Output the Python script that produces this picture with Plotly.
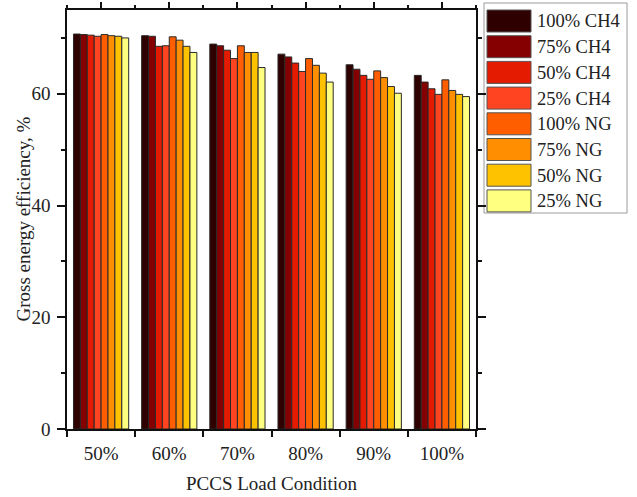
import plotly.graph_objects as go

# ---- data ----
load_conditions = ["50%", "60%", "70%", "80%", "90%", "100%"]
series_names = ["100% CH4", "75% CH4", "50% CH4", "25% CH4",
                "100% NG", "75% NG", "50% NG", "25% NG"]
ch4_100 = [70.7, 70.4, 68.9, 67.1, 65.2, 63.3]
ch4_75 = [70.6, 70.3, 68.6, 66.6, 64.4, 62.1]
ch4_50 = [70.5, 68.5, 67.8, 65.5, 63.3, 60.9]
ch4_25 = [70.3, 68.6, 66.3, 64.0, 62.6, 59.9]
ng_100 = [70.6, 70.2, 68.6, 66.3, 64.1, 62.5]
ng_75 = [70.4, 69.6, 67.4, 65.1, 62.9, 60.6]
ng_50 = [70.3, 68.5, 67.4, 63.7, 61.3, 59.9]
ng_25 = [70.0, 67.4, 64.7, 62.1, 60.1, 59.5]
series_values = [ch4_100, ch4_75, ch4_50, ch4_25, ng_100, ng_75, ng_50, ng_25]
colors = ["#2e0000", "#850000", "#e41b00", "#ff4422",
          "#ff5e00", "#ff8f00", "#ffc200", "#ffff80"]

# ---- layout geometry (pixels) ----
W, H = 637, 497
ML, MR, MT, MB = 67, 161, 10, 68
PW, PH = W - ML - MR, H - MT - MB
FONT = "Liberation Serif"


def px_x(x):
    return (x - ML) / PW


def px_y(y):
    return (H - MB - y) / PH


fig = go.Figure()
xpos = list(range(len(load_conditions)))
for name, vals, col in zip(series_names, series_values, colors):
    fig.add_trace(go.Bar(
        x=xpos, y=vals, name=name, showlegend=False,
        marker=dict(color=col, line=dict(color="#2a2a2a", width=1)),
    ))

# invisible trace to activate the top axis
fig.add_trace(go.Scatter(x=[0], y=[0], xaxis="x2", mode="markers",
                         marker=dict(opacity=0), showlegend=False,
                         hoverinfo="skip"))

# custom legend with large swatches
shapes = [dict(type="rect", xref="paper", yref="paper",
               x0=px_x(484), x1=px_x(627), y0=px_y(213), y1=px_y(3),
               line=dict(color="#9a9a9a", width=1), fillcolor="white",
               layer="below")]
annotations = []
for i, (name, col) in enumerate(zip(series_names, colors)):
    top = 10 + 25.7 * i
    shapes.append(dict(type="rect", xref="paper", yref="paper",
                       x0=px_x(487), x1=px_x(531),
                       y0=px_y(top + 22), y1=px_y(top),
                       fillcolor=col, line=dict(color="#555555", width=1)))
    annotations.append(dict(xref="paper", yref="paper", x=px_x(535),
                            y=px_y(top + 11.5), text=name, showarrow=False,
                            xanchor="left", yanchor="middle",
                            font=dict(family=FONT, size=18.5, color="#222222")))

# y-axis title placed as annotation for exact position
annotations.append(dict(xref="paper", yref="paper", x=px_x(23), y=0.5,
                        text="Gross energy efficiency, %", showarrow=False,
                        textangle=-90, xanchor="center", yanchor="middle",
                        font=dict(family=FONT, size=19, color="#222222")))

fig.update_layout(
    width=W, height=H,
    margin=dict(l=ML, r=MR, t=MT, b=MB, autoexpand=False),
    paper_bgcolor="white", plot_bgcolor="white",
    barmode="group", bargap=0.19, bargroupgap=0,
    font=dict(family=FONT, size=19, color="#222222"),
    shapes=shapes, annotations=annotations,
    xaxis=dict(
        range=[-0.5, 5.5], tickvals=xpos, ticktext=load_conditions,
        ticks="", showline=True, linecolor="#111111", linewidth=1.5,
        mirror=True, showgrid=False, zeroline=False,
        ticklabelstandoff=6,
        minor=dict(tick0=0.5, dtick=1, ticks="outside", ticklen=6,
                   tickcolor="#111111", tickwidth=1.5, showgrid=False),
        title=dict(text="PCCS Load Condition", standoff=14,
                   font=dict(family=FONT, size=19)),
        automargin=False,
    ),
    xaxis2=dict(
        overlaying="x", side="top", matches="x", range=[-0.5, 5.5],
        tickvals=xpos, showticklabels=False, ticks="outside", ticklen=7,
        tickcolor="#111111", tickwidth=1.5, showline=False, showgrid=False,
        zeroline=False,
        minor=dict(tick0=0.5, dtick=1, ticks="outside", ticklen=4,
                   tickcolor="#111111", tickwidth=1.5, showgrid=False),
    ),
    yaxis=dict(
        range=[0, 75], tick0=0, dtick=20, ticks="outside", ticklen=8,
        tickcolor="#111111", tickwidth=1.5, showline=True,
        linecolor="#111111", linewidth=1.5, mirror="ticks",
        showgrid=False, zeroline=False, ticklabelstandoff=3,
        minor=dict(dtick=10, ticks="outside", ticklen=4,
                   tickcolor="#111111", tickwidth=1.5, showgrid=False),
        automargin=False,
    ),
)

fig.write_html("out.html", config={"displayModeBar": False},
               post_script="document.body.style.margin='0';")
